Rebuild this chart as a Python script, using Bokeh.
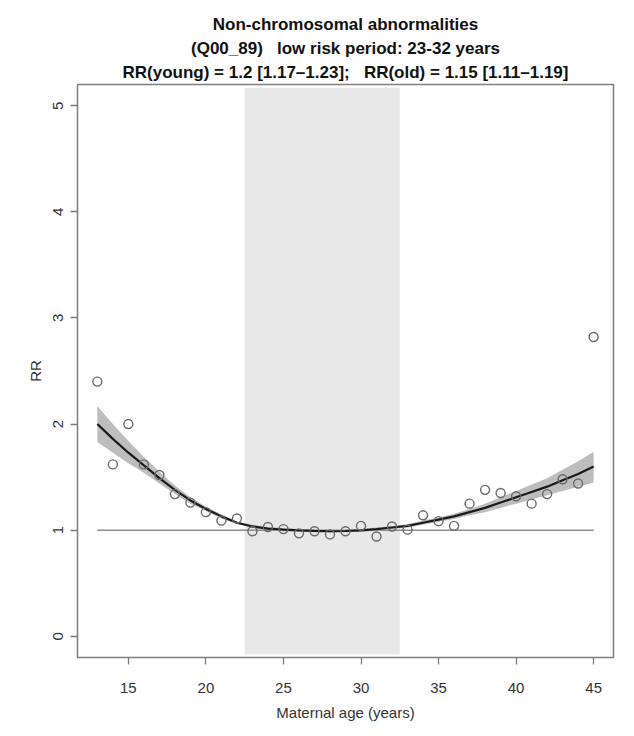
from bokeh.plotting import figure
from bokeh.models import Range1d, FixedTicker, Title, ColumnDataSource
from bokeh.embed import file_html
from bokeh.resources import INLINE

# ---- data ----
ages = list(range(13, 46))
observed_rr = [2.40, 1.62, 2.00, 1.62, 1.52, 1.34, 1.26, 1.17, 1.09, 1.11,
               0.99, 1.03, 1.01, 0.97, 0.99, 0.96, 0.99, 1.04, 0.94, 1.035,
               1.005, 1.14, 1.085, 1.04, 1.25, 1.38, 1.35, 1.32, 1.25, 1.34,
               1.48, 1.44, 2.82]
fit_rr = [2.00, 1.86, 1.73, 1.61, 1.49, 1.38, 1.28, 1.20, 1.13, 1.07,
          1.035, 1.015, 1.005, 0.998, 0.993, 0.990, 0.992, 0.998, 1.01, 1.025,
          1.04, 1.07, 1.10, 1.13, 1.17, 1.21, 1.26, 1.31, 1.36, 1.41,
          1.47, 1.53, 1.60]
fit_lower = [1.83, 1.73, 1.63, 1.54, 1.44, 1.34, 1.25, 1.18, 1.11, 1.06,
             1.02, 1.00, 0.99, 0.985, 0.98, 0.978, 0.98, 0.985, 0.995, 1.01,
             1.025, 1.05, 1.08, 1.105, 1.14, 1.17, 1.21, 1.25, 1.29, 1.33,
             1.37, 1.41, 1.45]
fit_upper = [2.17, 2.00, 1.84, 1.69, 1.55, 1.42, 1.31, 1.22, 1.15, 1.08,
             1.05, 1.03, 1.02, 1.01, 1.005, 1.002, 1.004, 1.01, 1.025, 1.04,
             1.055, 1.09, 1.12, 1.155, 1.20, 1.25, 1.31, 1.37, 1.43, 1.49,
             1.57, 1.65, 1.74]
low_risk_start = 22.5
low_risk_end = 32.5
reference_rr = 1.0
x_ticks = [15, 20, 25, 30, 35, 40, 45]
y_ticks = [0, 1, 2, 3, 4, 5]
NB = "\u00a0"
title_lines = ["Non-chromosomal abnormalities",
               "(Q00_89)" + NB * 3 + "low risk period: 23-32 years",
               "RR(young) = 1.2 [1.17\u20131.23];" + NB * 3 + "RR(old) = 1.15 [1.11\u20131.19]"]

FONT = "Liberation Sans"

p = figure(width=634, height=736, output_backend="svg", toolbar_location=None,
           x_range=Range1d(11.72, 46.28), y_range=Range1d(-0.2, 5.2),
           min_border_left=77, min_border_right=21, min_border_top=84,
           min_border_bottom=79, background_fill_color="white",
           border_fill_color="white")
p.title = None
title_standoffs = [6, 0, 5]  # line 3, line 2, line 1
for t, so in zip(reversed(title_lines), title_standoffs):
    p.add_layout(Title(text=t, align="center", text_font=FONT,
                       text_font_size="17px", text_font_style="bold",
                       text_color="#111111", standoff=so, offset=0), "above")

p.xgrid.visible = False
p.ygrid.visible = False
p.outline_line_color = "#808080"
p.outline_line_width = 1.5

# low-risk shaded period
p.quad(left=[low_risk_start], right=[low_risk_end], bottom=[-0.17], top=[5.17],
       fill_color="#e8e8e8", line_color=None)

# reference line
p.line([ages[0], ages[-1]], [reference_rr, reference_rr], line_color="#8c8c8c",
       line_width=1.5)

src = ColumnDataSource(dict(age=ages, obs=observed_rr, fit=fit_rr,
                            lo=fit_lower, hi=fit_upper))
p.varea(x="age", y1="lo", y2="hi", source=src, fill_color="#bdbdbd")
p.line(x="age", y="fit", source=src, line_color="#1a1a1a", line_width=2.2)
p.scatter(x="age", y="obs", source=src, marker="circle", size=9,
          fill_color=None, line_color="#6a6a6a", line_width=1.4)

for ax in (p.xaxis[0], p.yaxis[0]):
    ax.axis_line_color = None
    ax.major_tick_line_color = "#7a7a7a"
    ax.major_tick_line_width = 1.3
    ax.major_tick_out = 7
    ax.major_tick_in = 0
    ax.minor_tick_line_color = None
    ax.major_label_text_font = FONT
    ax.major_label_text_font_size = "15px"
    ax.major_label_text_color = "#333333"
    ax.axis_label_text_font = FONT
    ax.axis_label_text_font_size = "15px"
    ax.axis_label_text_font_style = "normal"
    ax.axis_label_text_color = "#333333"

p.xaxis.ticker = FixedTicker(ticks=x_ticks)
p.yaxis.ticker = FixedTicker(ticks=y_ticks)
p.xaxis.axis_label = "Maternal age (years)"
p.yaxis.axis_label = "RR"
p.yaxis.major_label_orientation = "vertical"
p.xaxis.major_label_standoff = 18
p.yaxis.major_label_standoff = 7
p.xaxis.axis_label_standoff = 8
p.yaxis.axis_label_standoff = 7

open("out.html", "w").write(file_html(p, INLINE))
